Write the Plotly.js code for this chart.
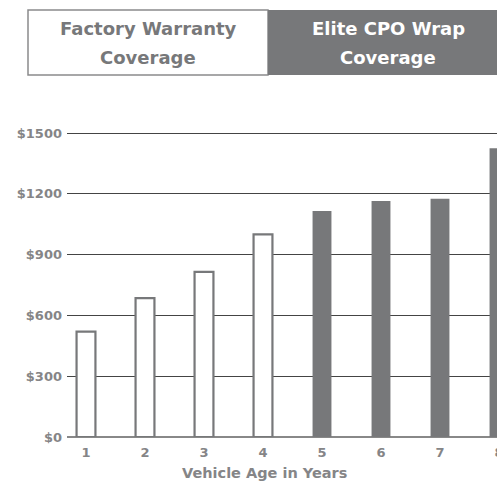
<!DOCTYPE html>
<html>
<head>
<meta charset="utf-8">
<script src="https://cdn.plot.ly/plotly-3.0.1.min.js"></script>
<style>
html,body{margin:0;padding:0;overflow:hidden;background:#fff;width:497px;height:485px;}
#chart{width:520px;height:485px;}
</style>
</head>
<body>
<div id="chart"></div>
<script>
const years = [1, 2, 3, 4, 5, 6, 7, 8];
const costs = [520, 685, 815, 1000, 1115, 1165, 1175, 1425];
const coverage = ['factory', 'factory', 'factory', 'factory', 'elite', 'elite', 'elite', 'elite'];
const yTickVals = [0, 300, 600, 900, 1200, 1500];
const yTickText = ['$0', '$300', '$600', '$900', '$1200', '$1500'];
const legendFactory = ['Factory Warranty', 'Coverage'];
const legendElite = ['Elite CPO Wrap', 'Coverage'];
const xTitle = 'Vehicle Age in Years';

const GRAY = '#77787a';
const TXT = '#858587';
const FONT = 'DejaVu Sans, sans-serif';

const W = 520, H = 485;
const L = 67, R = 0, T = 110, B = 48;
const pw = W - L - R, ph = H - T - B;
const px = x => (x - L) / pw;
const py = y => (H - B - y) / ph;

const trace = {
  type: 'bar',
  x: years,
  y: costs,
  width: 0.32,
  marker: {
    color: coverage.map(c => c === 'factory' ? '#ffffff' : GRAY),
    line: {color: coverage.map(c => GRAY), width: coverage.map(c => c === 'factory' ? 2.2 : 0)}
  },
  hoverinfo: 'none'
};

function legendLines(lines, cx, color) {
  const ys = [28, 57];
  return lines.map((t, i) => ({
    xref: 'paper', yref: 'paper', x: px(cx), y: py(ys[i]), xanchor: 'center', yanchor: 'middle',
    text: '<b>' + t + '</b>', showarrow: false, align: 'center',
    font: {size: 18, family: FONT, color: color}
  }));
}

const layout = {
  width: W, height: H,
  margin: {l: L, r: R, t: T, b: B, pad: 0},
  paper_bgcolor: '#fff', plot_bgcolor: '#fff',
  showlegend: false,
  font: {family: FONT, color: TXT},
  xaxis: {
    range: [0.678, 0.678 + pw / 59],
    tickvals: years,
    ticktext: years.map(String),
    showgrid: false,
    zeroline: false,
    showline: false,
    ticks: '',
    ticklabelstandoff: 6,
    tickfont: {size: 13, family: FONT, color: TXT, weight: 'bold'},
    fixedrange: true
  },
  yaxis: {
    range: [0, ph / ((437 - 133) / 1500)],
    tickvals: yTickVals,
    ticktext: yTickText,
    showgrid: true,
    gridcolor: '#444444',
    gridwidth: 1,
    zeroline: true,
    zerolinecolor: '#888888',
    zerolinewidth: 1.5,
    showline: false,
    ticks: '',
    ticklabelstandoff: 4,
    tickfont: {size: 13, family: FONT, color: TXT, weight: 'bold'},
    fixedrange: true
  },
  shapes: [
    {type: 'rect', xref: 'paper', yref: 'paper', x0: px(28), x1: px(268), y0: py(75), y1: py(10),
     fillcolor: '#ffffff', line: {color: '#8a8a8c', width: 1.5}},
    {type: 'rect', xref: 'paper', yref: 'paper', x0: px(268), x1: px(530), y0: py(75), y1: py(10),
     fillcolor: GRAY, line: {width: 0}}
  ],
  annotations: legendLines(legendFactory, 148, GRAY)
    .concat(legendLines(legendElite, 388, '#ffffff'))
    .concat([{
      xref: 'paper', yref: 'paper', x: px(264.5), y: py(473), xanchor: 'center', yanchor: 'middle',
      text: '<b>' + xTitle + '</b>', showarrow: false,
      font: {size: 14.5, family: FONT, color: TXT}
    }])
};

Plotly.newPlot('chart', [trace], layout, {displayModeBar: false, staticPlot: true});
</script>
</body>
</html>
